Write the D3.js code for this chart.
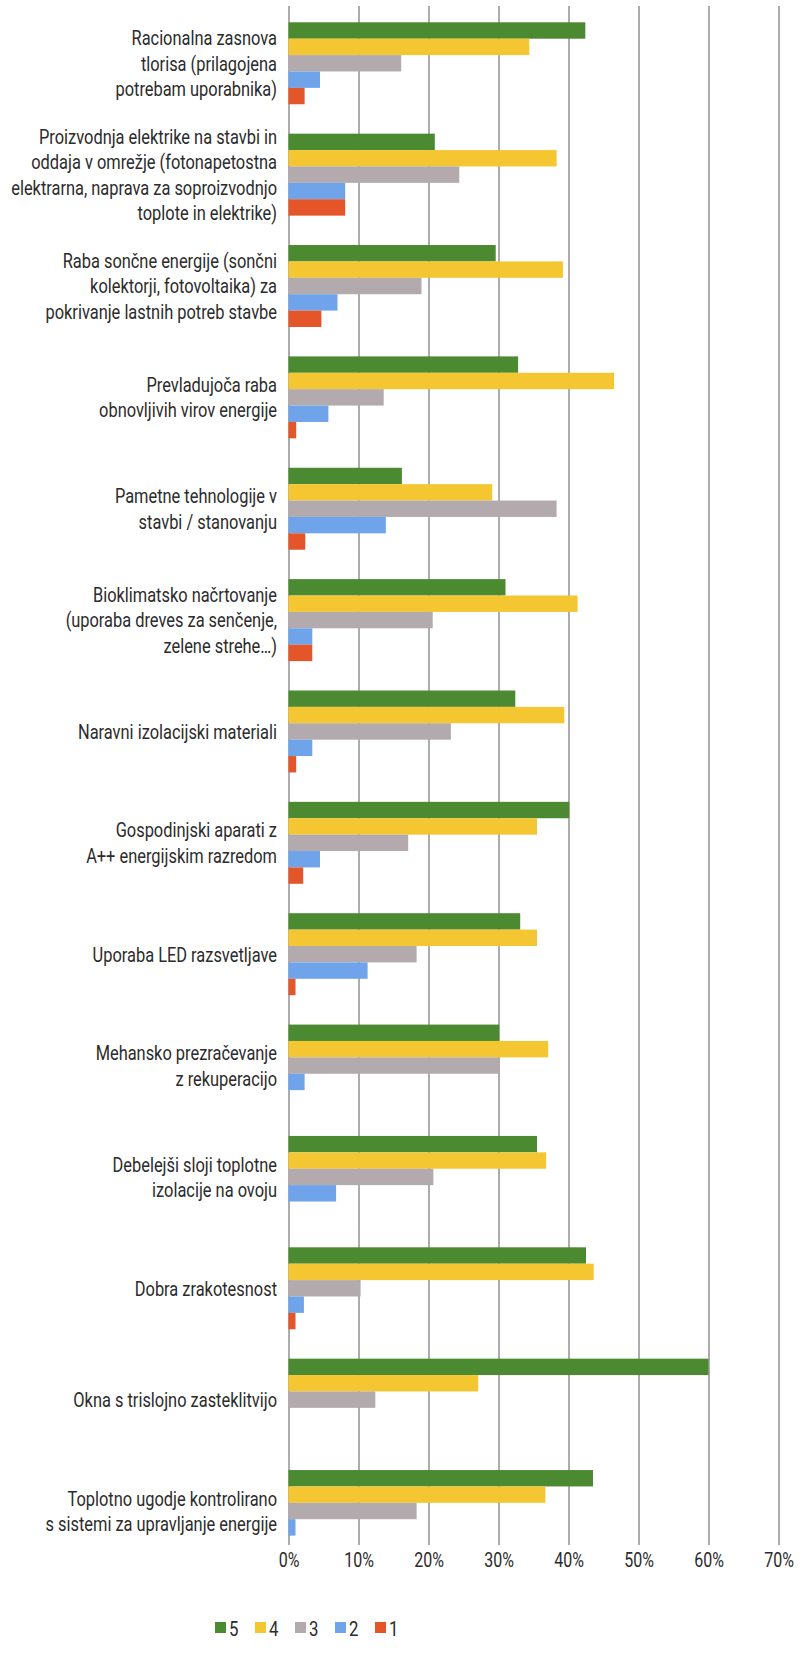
<!DOCTYPE html>
<html>
<head>
<meta charset="utf-8">
<script src="https://cdn.jsdelivr.net/npm/d3@7"></script>
<style>
  html, body { margin: 0; padding: 0; background: #ffffff; }
  svg { display: block; }
  text { font-family: Roboto, "Noto Sans", sans-serif; fill: #2b2b2b; }
</style>
</head>
<body>
<svg id="chart" width="808" height="1658"></svg>
<script>
// ---- data ----
const categories = [
  "Racionalna zasnova|tlorisa (prilagojena|potrebam uporabnika)",
  "Proizvodnja elektrike na stavbi in|oddaja v omrežje (fotonapetostna|elektrarna, naprava za soproizvodnjo|toplote in elektrike)",
  "Raba sončne energije (sončni|kolektorji, fotovoltaika) za|pokrivanje lastnih potreb stavbe",
  "Prevladujoča raba|obnovljivih virov energije",
  "Pametne tehnologije v|stavbi / stanovanju",
  "Bioklimatsko načrtovanje|(uporaba dreves za senčenje,|zelene strehe…)",
  "Naravni izolacijski materiali",
  "Gospodinjski aparati z|A++ energijskim razredom",
  "Uporaba LED razsvetljave",
  "Mehansko prezračevanje|z rekuperacijo",
  "Debelejši sloji toplotne|izolacije na ovoju",
  "Dobra zrakotesnost",
  "Okna s trislojno zasteklitvijo",
  "Toplotno ugodje kontrolirano|s sistemi za upravljanje energije"
];
const seriesNames = ["5", "4", "3", "2", "1"];
const s5 = [42.4, 20.9, 29.6, 32.8, 16.2, 31.0, 32.4, 40.1, 33.1, 30.1, 35.5, 42.5, 60.0, 43.5];
const s4 = [34.4, 38.3, 39.2, 46.5, 29.1, 41.3, 39.4, 35.5, 35.5, 37.1, 36.8, 43.6, 27.1, 36.7];
const s3 = [16.1, 24.4, 19.0, 13.6, 38.3, 20.6, 23.2, 17.1, 18.3, 30.1, 20.7, 10.3, 12.4, 18.3];
const s2 = [4.5, 8.1, 7.0, 5.7, 13.9, 3.4, 3.4, 4.5, 11.3, 2.3, 6.8, 2.2, 0, 1.0];
const s1 = [2.3, 8.1, 4.7, 1.1, 2.4, 3.4, 1.1, 2.1, 1.0, 0, 0, 1.0, 0, 0];
const tickValues = [0, 10, 20, 30, 40, 50, 60, 70];
const colors = ["#4b8a30", "#f4c632", "#b3aaae", "#6fa3ea", "#e4552a"];

const seriesValues = [s5, s4, s3, s2, s1];

// ---- layout ----
const svg = d3.select("#chart");
const plotTop = 6, plotBottom = 1545;
const x = d3.scaleLinear().domain([0, 70]).range([288.5, 778.5]);
const y = d3.scaleBand().domain(categories).range([22.3, 1552]).paddingInner(0.264).paddingOuter(0);
const ySub = d3.scaleBand().domain(seriesNames).range([0, y.bandwidth()]).padding(0);
const condense = 0.8;

svg.append("rect").attr("width", 808).attr("height", 1658).attr("fill", "#ffffff");

// axis with gridlines
const axis = d3.axisBottom(x)
  .tickValues(tickValues)
  .tickFormat(d => d + "%")
  .tickSizeInner(-(plotBottom - plotTop))
  .tickSizeOuter(0)
  .tickPadding(8);
const gAxis = svg.append("g").attr("transform", `translate(0,${plotBottom})`).call(axis);
gAxis.select(".domain").remove();
gAxis.selectAll(".tick line").attr("stroke", "#5a5a5a").attr("stroke-width", 1);
gAxis.selectAll(".tick text")
  .attr("font-size", 20)
  .attr("fill", "#2b2b2b")
  .attr("transform", `scale(${condense},1)`)
  .style("font-family", 'Roboto, "Noto Sans", sans-serif');

// bars
const groups = svg.append("g").selectAll("g")
  .data(categories)
  .join("g")
  .attr("transform", d => `translate(0,${y(d)})`);

groups.selectAll("rect")
  .data((d, i) => seriesNames.map((s, k) => ({ s, v: seriesValues[k][i], k })))
  .join("rect")
  .attr("x", x(0))
  .attr("y", d => ySub(d.s))
  .attr("width", d => x(d.v) - x(0))
  .attr("height", ySub.bandwidth())
  .attr("fill", d => colors[d.k]);

// category labels (condensed horizontally to match the narrow typeface)
const lineH = 25.5;
const labelX = 277;
const targetWidest = 266;
const labelG = svg.append("g").attr("transform", `translate(${labelX},0)`);
labelG.selectAll("text")
  .data(categories)
  .join("text")
  .attr("text-anchor", "end")
  .attr("font-size", 21)
  .each(function(d) {
    const lines = d.split("|");
    const cy = y(d) + y.bandwidth() / 2;
    const t = d3.select(this);
    lines.forEach((ln, j) => {
      t.append("tspan")
        .attr("x", 0)
        .attr("y", cy + (j - (lines.length - 1) / 2) * lineH)
        .attr("dy", "0.35em")
        .text(ln);
    });
  });
let widest = 0;
labelG.selectAll("tspan").each(function() {
  widest = Math.max(widest, this.getComputedTextLength());
});
const sx = widest > 0 ? Math.min(1, targetWidest / widest) : condense;
labelG.attr("transform", `translate(${labelX},0) scale(${sx},1)`);

// legend
const legend = svg.append("g").attr("transform", "translate(215,1628)");
const li = legend.selectAll("g").data(seriesNames).join("g")
  .attr("transform", (d, i) => `translate(${i * 40},0)`);
li.append("rect").attr("x", 0).attr("y", -6).attr("width", 11).attr("height", 11)
  .attr("fill", (d, i) => colors[i]);
li.append("text").attr("x", 14 / condense).attr("y", 0).attr("dy", "0.36em")
  .attr("transform", `scale(${condense},1)`)
  .attr("font-size", 21).text(d => d);
</script>
</body>
</html>
